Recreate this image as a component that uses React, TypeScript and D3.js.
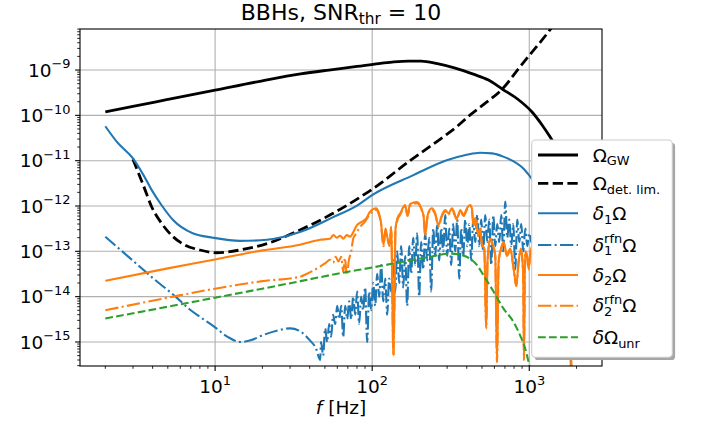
import React, { useEffect, useRef } from "react";
import * as d3 from "d3";

const width = 706;
const height = 428;
const margin = { top: 29, right: 104, bottom: 62, left: 80 };

// axis limits (Hz, Omega)
const xLimits = [1.38, 2904];
const yLimits = [2.95e-16, 8.04e-9];
const xTickExps = [1, 2, 3];
const yTickExps = [-15, -14, -13, -12, -11, -10, -9];

// Omega_GW
const gwPts = [
  [2, 1.2e-10], [3, 1.58e-10], [5, 2.24e-10], [10, 3.6e-10], [20, 5.8e-10], [35, 8.2e-10],
  [53, 1.0e-9], [80, 1.2e-9], [110, 1.39e-9], [134, 1.5e-9], [170, 1.58e-9], [205, 1.58e-9],
  [260, 1.38e-9], [338, 1.1e-9], [440, 8.1e-10], [550, 6.0e-10], [673, 3.8e-10], [850, 2.24e-10],
  [1038, 1.2e-10], [1200, 6.3e-11], [1352, 3.4e-11], [1600, 1.26e-11], [2000, 2.5e-12],
];

// detection limit
const detPts = [
  [3, 1.07e-11], [3.5, 2.8e-12], [3.95, 9.5e-13], [4.6, 4.0e-13], [5.4, 2.1e-13], [6.5, 1.35e-13],
  [8, 1.07e-13], [10.2, 9.3e-14], [14.4, 1.07e-13], [21.4, 1.48e-13], [35, 3.0e-13], [56, 6.8e-13],
  [84, 1.58e-12], [101, 2.4e-12], [174, 1.0e-11], [285, 3.4e-11], [345, 5.6e-11], [417, 1.0e-10],
  [540, 2.0e-10], [673, 3.8e-10], [860, 1.1e-9], [1000, 2.1e-9], [1200, 4.5e-9], [1400, 8.9e-9],
];

// delta_1 Omega
const d1Pts = [
  [2, 5.75e-11], [2.37, 2.6e-11], [3, 1.12e-11], [3.5, 4.8e-12], [3.95, 2.24e-12], [4.6, 1.0e-12],
  [5.4, 4.9e-13], [7.2, 2.5e-13], [9.7, 2.0e-13], [14.4, 1.7e-13], [21.4, 1.8e-13], [35, 2.7e-13],
  [56, 5.6e-13], [81, 1.05e-12], [101, 1.78e-12], [183, 4.8e-12], [298, 1.02e-11], [400, 1.35e-11],
  [485, 1.5e-11], [580, 1.45e-11], [683, 1.23e-11], [913, 6.8e-12], [1016, 4.4e-12], [1300, 1.26e-12],
  [1600, 3.2e-13], [2000, 6.3e-14],
];

// delta_1^rfn Omega
const d1RfnPts = [
  [2, 2.1e-13], [3, 6.2e-14], [4, 2.6e-14], [5.6, 1.0e-14], [7, 5.0e-15], [8.4, 3.2e-15],
  [10, 2.1e-15], [12, 1.3e-15], [14.4, 1.0e-15], [17, 1.1e-15], [20, 1.4e-15], [25, 1.8e-15],
  [30, 2.0e-15], [35, 1.7e-15], [40, 1.1e-15], [44, 7.0e-16], [46.6, 4.0e-16],
  [47.3, 1.0e-15], [48.7, 5.0e-16], [50.2, 2.0e-15], [51.7, 1.0e-15], [53.2, 2.5e-15], [54.8, 1.3e-15],
  [56.4, 4.0e-15], [58.1, 2.5e-15], [59.9, 6.3e-15], [61.6, 3.2e-15], [63.5, 6.3e-15], [65.4, 1.3e-15],
  [67.3, 6.3e-15], [69.3, 3.2e-15], [71.4, 7.9e-15], [73.5, 3.2e-15], [75.7, 1.0e-14], [77.9, 4.0e-15],
  [80.2, 1.3e-14], [82.6, 2.5e-15], [85.1, 1.0e-14], [87.6, 5.0e-15], [90.2, 1.6e-14], [92.9, 1.0e-15],
  [95.7, 1.3e-14], [98.6, 5.0e-15], [101.5, 2.0e-14], [104.5, 6.3e-15], [107.6, 3.2e-14], [110.8, 1.0e-14],
  [114.1, 5.0e-14], [117.5, 7.9e-15], [121, 2.5e-14], [124.6, 4.0e-15], [128.3, 2.5e-14], [132.2, 1.3e-14],
  [136.1, 6.3e-14], [140.1, 1.3e-14], [144.3, 1.0e-13], [148.6, 2.0e-14], [153, 1.3e-13], [157.5, 1.6e-14],
  [162.2, 7.9e-14], [167, 6.3e-15], [172, 1.3e-13], [177.1, 3.2e-14], [182.4, 2.0e-13], [187.8, 5.0e-14],
  [193.4, 2.5e-13], [199.1, 1.0e-14], [205, 1.6e-13], [211.2, 4.0e-14], [217.5, 2.5e-13], [223.9, 6.3e-14],
  [230.6, 2.0e-13], [237.5, 1.3e-14], [244.5, 3.2e-13], [251.8, 7.9e-14], [259.3, 4.0e-13], [267, 6.3e-14],
  [275, 3.2e-13], [283.2, 1.0e-13], [291.6, 6.3e-13], [300.3, 7.9e-14], [309.2, 3.2e-13], [318.4, 5.0e-14],
  [327.9, 4.0e-13], [337.7, 1.0e-13], [347.7, 5.0e-13], [358.1, 2.5e-14], [368.7, 3.2e-13], [379.7, 7.9e-14],
  [391, 5.0e-13], [402.7, 1.3e-13], [414.7, 4.0e-13], [427, 6.3e-14], [439.7, 5.0e-13], [452.8, 1.6e-13],
  [466.3, 6.3e-13], [480.2, 1.3e-13], [494.5, 5.0e-13], [509.2, 1.0e-13], [524.4, 6.3e-13], [540, 1.6e-13],
  [556.1, 5.0e-13], [572.7, 5.0e-14], [589.7, 6.3e-13], [607.3, 1.3e-13], [625.4, 4.0e-13], [644, 1.6e-13],
  [663.2, 6.3e-13], [682.9, 1.0e-13], [703.3, 1.26e-12], [724.2, 2.0e-13], [745.8, 5.0e-13], [768, 1.3e-13],
  [790.9, 4.0e-13], [814.5, 4.0e-14], [838.7, 5.0e-13], [863.7, 1.6e-13], [889.4, 4.0e-13], [915.9, 1.0e-13],
  [943.2, 3.2e-13], [971.3, 1.3e-13], [1000, 2.5e-13], [1030, 1.6e-13], [1100, 1.3e-13], [1300, 6.3e-14],
  [1500, 3.2e-14], [1700, 1.6e-14], [1800, 5.0e-15], [1850, 1.0e-16],
];

// delta_2 Omega
const d2Pts = [
  [2, 2.24e-14], [5, 4.2e-14], [10, 6.6e-14], [20, 1.05e-13], [34.7, 1.4e-13], [46.6, 1.8e-13],
  [54, 1.9e-13], [56.7, 2.3e-13], [59.6, 2.0e-13], [62.5, 2.2e-13], [65.6, 1.9e-13], [68.9, 2.3e-13],
  [72.4, 2.1e-13], [76, 2.7e-13], [80, 3.8e-13], [86, 4.5e-13], [92, 5.4e-13], [96.6, 7.4e-13],
  [106, 8.9e-13], [109.6, 7.4e-13], [113.6, 4.5e-13], [118, 1.4e-13], [121.6, 3.2e-13], [125.4, 1.9e-13],
  [129, 1.4e-13], [132, 3.5e-13], [136.6, 5.1e-16], [140.8, 3.2e-13], [145, 5.4e-13], [151, 6.9e-13],
  [162, 1.05e-12], [168, 6.3e-13], [174, 1.1e-12], [192.6, 1.23e-12], [212, 6.3e-13], [217.5, 2.3e-13],
  [223, 4.9e-13], [228.5, 7.4e-13], [240, 8.9e-13], [252, 6.9e-13], [264, 3.8e-13], [278, 6.3e-13],
  [292, 8.1e-13], [306, 6.9e-13], [322, 8.9e-13], [346, 5.4e-13], [364, 8.1e-13], [382, 6.3e-13],
  [401, 8.9e-13], [421, 1.05e-12], [431, 8.9e-13], [442, 3.8e-13], [453, 5.4e-13], [475, 2.3e-13],
  [487, 3.2e-13], [500, 1.4e-13], [517, 1.15e-13], [532, 2.0e-15], [542, 5.9e-14], [564, 1.9e-13],
  [587, 1.4e-13], [607, 8.3e-14], [623, 3.6e-16], [638, 5.9e-14], [661, 1.15e-13], [687, 1.6e-13],
  [721, 8.3e-14], [757, 1.15e-13], [795, 4.2e-14], [827, 1.8e-14], [855, 5.9e-14], [885, 1.15e-13],
  [915, 3.0e-14], [925, 4.0e-16], [940, 1.0e-13], [967, 8.3e-14], [990, 4.2e-14], [1022, 1.07e-13],
  [1100, 1.6e-13], [1250, 1.0e-13], [1400, 6.3e-14], [1600, 3.2e-14], [1750, 1.6e-14], [1830, 3.2e-15],
  [1860, 1.0e-16],
];

// delta_2^rfn Omega
const d2RfnPts = [
  [2, 5.0e-15], [5.4, 1.0e-14], [10, 1.5e-14], [20, 2.2e-14], [34.7, 2.75e-14], [38.5, 3.2e-14],
  [46.6, 4.6e-14], [50, 5.4e-14], [54, 6.5e-14], [56.4, 5.6e-14], [58.5, 7.6e-14], [61, 6.0e-14],
  [63.5, 7.6e-14], [65.5, 3.5e-14], [67, 7.1e-14], [69, 3.0e-14], [71, 6.3e-14], [73.5, 9.8e-14],
  [75.7, 1.9e-13], [77.9, 2.3e-13], [80, 2.7e-13], [84, 3.5e-13], [90, 4.5e-13], [96, 6.3e-13],
  [106, 8.3e-13], [109.6, 7.0e-13], [113.6, 4.2e-13], [118, 1.3e-13], [121.6, 3.0e-13], [125.4, 1.8e-13],
  [129, 1.3e-13], [132, 3.3e-13], [136.6, 5.0e-16], [140.8, 3.0e-13], [145, 5.0e-13], [151, 6.5e-13],
  [162, 9.8e-13], [168, 6.0e-13], [174, 1.0e-12], [192.6, 1.15e-12], [212, 6.0e-13], [217.5, 2.2e-13],
  [223, 4.6e-13], [228.5, 7.0e-13], [240, 8.3e-13], [252, 6.5e-13], [264, 3.6e-13], [278, 6.0e-13],
  [292, 7.6e-13], [306, 6.5e-13], [322, 8.3e-13], [346, 5.0e-13], [364, 7.6e-13], [382, 6.0e-13],
  [401, 8.3e-13], [421, 1.0e-12], [431, 8.3e-13], [442, 3.6e-13], [453, 5.0e-13], [475, 2.2e-13],
  [487, 3.0e-13], [500, 1.3e-13], [517, 1.1e-13], [532, 2.0e-15], [542, 5.5e-14], [564, 1.8e-13],
  [587, 1.3e-13], [607, 7.8e-14], [623, 3.6e-16], [638, 5.5e-14], [661, 1.1e-13], [687, 1.5e-13],
  [721, 7.8e-14], [757, 1.1e-13], [795, 4.0e-14], [827, 1.7e-14], [855, 5.5e-14], [885, 1.1e-13],
  [915, 2.8e-14], [925, 4.0e-16], [940, 9.5e-14], [967, 7.8e-14], [990, 4.0e-14], [1022, 1.0e-13],
  [1100, 1.5e-13], [1250, 9.5e-14], [1400, 6.0e-14], [1600, 3.0e-14], [1750, 1.5e-14], [1830, 3.0e-15],
  [1860, 1.0e-16],
];

// delta Omega_unr
const unrPts = [
  [2, 3.3e-15], [5, 6.0e-15], [10, 9.5e-15], [20, 1.5e-14], [35, 2.2e-14], [60, 3.2e-14],
  [100, 4.4e-14], [174, 6.3e-14], [234, 7.6e-14], [313, 8.9e-14], [370, 8.3e-14], [420, 6.9e-14],
  [464, 5.0e-14], [510, 3.0e-14], [592, 1.3e-14], [684, 5.5e-15], [795, 2.75e-15], [874, 1.4e-15],
  [942, 7.2e-16], [990, 3.6e-16], [1050, 1.6e-16],
];

type Piece = { t: string; k?: "sub" | "sup"; it?: boolean; dx?: number };

const legendLabels: Piece[][] = [
  [{ t: "Ω" }, { t: "GW", k: "sub" }],
  [{ t: "Ω" }, { t: "det. lim.", k: "sub" }],
  [{ t: "δ", it: true }, { t: "1", k: "sub" }, { t: "Ω" }],
  [{ t: "δ", it: true }, { t: "1", k: "sub" }, { t: "rfn", k: "sup", dx: -8.2 }, { t: "Ω" }],
  [{ t: "δ", it: true }, { t: "2", k: "sub" }, { t: "Ω" }],
  [{ t: "δ", it: true }, { t: "2", k: "sub" }, { t: "rfn", k: "sup", dx: -8.2 }, { t: "Ω" }],
  [{ t: "δ", it: true }, { t: "Ω" }, { t: "unr", k: "sub" }],
];

const blue = "#1f77b4";
const orange = "#ff7f0e";
const green = "#2ca02c";
const dashDot = "13.3,3.3,2.1,3.3";

const series = [
  { pts: gwPts, color: "#000", lw: 2.8, dash: null },
  { pts: detPts, color: "#000", lw: 2.8, dash: "10.3,4.4" },
  { pts: d1Pts, color: blue, lw: 2.1, dash: null },
  { pts: d1RfnPts, color: blue, lw: 2.1, dash: dashDot },
  { pts: d2Pts, color: orange, lw: 2.1, dash: null },
  { pts: d2RfnPts, color: orange, lw: 2.1, dash: dashDot },
  { pts: unrPts, color: green, lw: 2.1, dash: "7.7,3.3" },
];
const legendRowY = [155, 183.3, 213.3, 245, 275, 305.7, 337.3];

function drawMath(text: any, pieces: Piece[], size: number) {
  let cur = 0;
  pieces.forEach((p) => {
    const small = p.k === "sub" || p.k === "sup";
    const target = p.k === "sub" ? 0.2 * size : p.k === "sup" ? -0.45 * size : 0;
    const ts = text
      .append("tspan")
      .attr("font-size", small ? size * 0.7 : size)
      .attr("dy", target - cur)
      .text(p.t);
    if (p.it) ts.attr("font-style", "italic");
    if (p.dx) ts.attr("dx", p.dx);
    cur = target;
  });
}

const App = () => {
  const ref = useRef<SVGSVGElement>(null);

  useEffect(() => {
    const svg = d3.select(ref.current);
    svg.selectAll("*").remove();

    const x = d3.scaleLog().domain(xLimits).range([margin.left, width - margin.right]);
    const y = d3.scaleLog().domain(yLimits).range([height - margin.bottom, margin.top]);
    const x0 = margin.left;
    const x1 = width - margin.right;
    const y0 = height - margin.bottom;
    const y1 = margin.top;

    svg.append("rect").attr("width", width).attr("height", height).attr("fill", "#fff");

    svg
      .append("clipPath")
      .attr("id", "plotClip")
      .append("rect")
      .attr("x", x0)
      .attr("y", y1)
      .attr("width", x1 - x0)
      .attr("height", y0 - y1);

    // grid
    const grid = svg.append("g").attr("stroke", "#b0b0b0").attr("stroke-width", 1.1);
    xTickExps.forEach((e) => {
      const px = x(10 ** e);
      grid.append("line").attr("x1", px).attr("x2", px).attr("y1", y1).attr("y2", y0);
    });
    yTickExps.forEach((e) => {
      const py = y(10 ** e);
      grid.append("line").attr("x1", x0).attr("x2", x1).attr("y1", py).attr("y2", py);
    });

    // curves
    const line = d3
      .line<number[]>()
      .x((d) => x(d[0]))
      .y((d) => y(d[1]))
      .curve(d3.curveMonotoneX);
    const curves = svg.append("g").attr("clip-path", "url(#plotClip)");
    series.forEach((s) => {
      const p = curves
        .append("path")
        .attr("d", line(s.pts))
        .attr("fill", "none")
        .attr("stroke", s.color)
        .attr("stroke-width", s.lw)
        .attr("stroke-linejoin", "round");
      if (s.dash) p.attr("stroke-dasharray", s.dash);
    });

    // spines
    svg
      .append("rect")
      .attr("x", x0)
      .attr("y", y1)
      .attr("width", x1 - x0)
      .attr("height", y0 - y1)
      .attr("fill", "none")
      .attr("stroke", "#000")
      .attr("stroke-width", 1.1);

    // ticks
    const ticks = svg.append("g").attr("stroke", "#000");
    for (let e = 0; e <= 3; e++) {
      for (let m = 1; m <= 9; m++) {
        const v = m * 10 ** e;
        if (v < xLimits[0] || v > xLimits[1]) continue;
        const major = m === 1;
        ticks
          .append("line")
          .attr("x1", x(v))
          .attr("x2", x(v))
          .attr("y1", y0)
          .attr("y2", y0 + (major ? 4.9 : 2.8))
          .attr("stroke-width", major ? 1.1 : 0.85);
      }
    }
    for (let e = -16; e <= -8; e++) {
      for (let m = 1; m <= 9; m++) {
        const v = m * 10 ** e;
        if (v < yLimits[0] || v > yLimits[1]) continue;
        const major = m === 1;
        ticks
          .append("line")
          .attr("x1", x0)
          .attr("x2", x0 - (major ? 4.9 : 2.8))
          .attr("y1", y(v))
          .attr("y2", y(v))
          .attr("stroke-width", major ? 1.1 : 0.85);
      }
    }

    const fs = 18.5;
    // tick labels
    xTickExps.forEach((e) => {
      const t = svg
        .append("text")
        .attr("x", x(10 ** e))
        .attr("y", 393)
        .attr("text-anchor", "middle")
        .attr("font-size", fs);
      drawMath(t, [{ t: "10" }, { t: String(e), k: "sup" }], fs);
    });
    yTickExps.forEach((e) => {
      const t = svg
        .append("text")
        .attr("x", 70.5)
        .attr("y", y(10 ** e) + 6.7)
        .attr("text-anchor", "end")
        .attr("font-size", fs);
      drawMath(t, [{ t: "10" }, { t: "\u2212" + String(-e), k: "sup" }], fs);
    });

    // axis label
    const xl = svg
      .append("text")
      .attr("x", (x0 + x1) / 2)
      .attr("y", 413.5)
      .attr("text-anchor", "middle")
      .attr("font-size", fs);
    drawMath(xl, [{ t: "f", it: true }, { t: " [Hz]" }], fs);

    // title
    const title = svg
      .append("text")
      .attr("x", (x0 + x1) / 2)
      .attr("y", 20)
      .attr("text-anchor", "middle")
      .attr("font-size", 22);
    drawMath(title, [{ t: "BBHs, SNR" }, { t: "thr", k: "sub" }, { t: " = 10" }], 22);

    // legend
    const lg = svg.append("g");
    const lx = 531.7;
    const ly = 140;
    const lw = 140.6;
    const lh = 217.3;
    lg.append("rect")
      .attr("x", lx + 2.8)
      .attr("y", ly + 2.8)
      .attr("width", lw)
      .attr("height", lh)
      .attr("rx", 3.7)
      .attr("fill", "#a6a6a6");
    lg.append("rect")
      .attr("x", lx)
      .attr("y", ly)
      .attr("width", lw)
      .attr("height", lh)
      .attr("rx", 3.7)
      .attr("fill", "#fff")
      .attr("stroke", "#cccccc")
      .attr("stroke-width", 1.1);
    series.forEach((s, i) => {
      const ry = legendRowY[i];
      const h = lg
        .append("line")
        .attr("x1", 538)
        .attr("x2", 578)
        .attr("y1", ry)
        .attr("y2", ry)
        .attr("stroke", s.color)
        .attr("stroke-width", s.lw);
      if (s.dash) h.attr("stroke-dasharray", s.dash);
      const t = lg
        .append("text")
        .attr("x", 592.7)
        .attr("y", ry + 6.5)
        .attr("font-size", fs);
      drawMath(t, legendLabels[i], fs);
    });
  }, []);

  return (
    <svg
      ref={ref}
      width={width}
      height={height}
      fontFamily="DejaVu Sans"
      style={{ position: "absolute", left: 0, top: 0 }}
    />
  );
};

export default App;
